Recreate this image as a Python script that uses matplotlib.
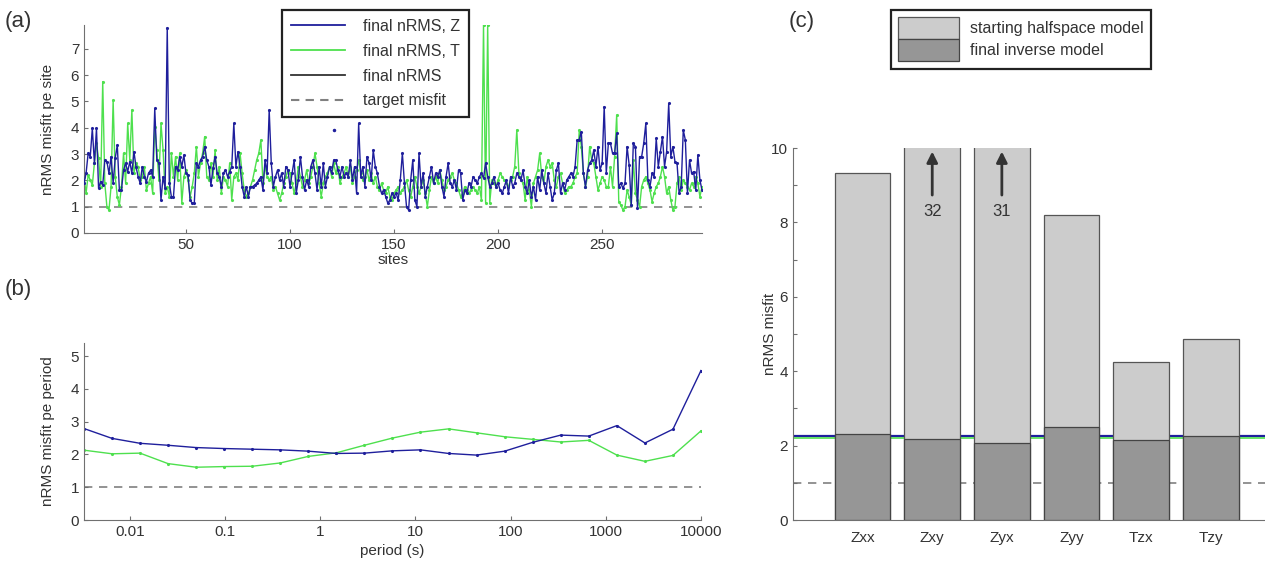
import matplotlib
matplotlib.use('Agg')
import numpy as np
import matplotlib.pyplot as plt
from matplotlib.lines import Line2D

plt.rcParams['font.family'] = ['Liberation Sans', 'DejaVu Sans']

# (a) misfit per site, sites 1..298
nrms_site_z = [
    1.89, 2.27, 3.03, 2.90, 3.97, 2.65, 3.97, 1.70, 1.95, 1.82,
    2.77, 2.71, 2.27, 2.90, 1.89, 2.84, 3.34, 1.63, 1.63, 2.39,
    2.65, 2.33, 2.71, 2.27, 3.09, 2.52, 2.14, 1.89, 2.52, 2.14,
    1.95, 2.27, 2.39, 2.14, 4.73, 2.77, 2.65, 1.25, 2.14, 1.70,
    7.80, 1.89, 1.38, 1.38, 2.52, 2.39, 2.90, 2.52, 2.96, 2.27,
    2.20, 1.25, 1.13, 1.13, 2.65, 2.52, 2.77, 2.90, 3.28, 2.77,
    2.52, 1.82, 2.46, 2.90, 2.27, 2.14, 1.76, 2.27, 2.39, 2.14,
    2.33, 2.52, 4.16, 2.52, 3.09, 2.52, 1.76, 1.38, 1.76, 1.38,
    1.76, 1.76, 1.82, 1.89, 2.01, 2.14, 1.63, 2.77, 2.27, 4.67,
    2.65, 1.76, 2.14, 2.39, 2.01, 2.27, 1.76, 2.52, 2.39, 1.76,
    2.27, 2.77, 1.51, 2.01, 2.90, 2.14, 1.63, 2.01, 1.76, 2.52,
    2.77, 2.27, 1.63, 2.52, 1.76, 2.65, 1.76, 2.14, 2.52, 2.27,
    2.77, 2.77, 2.39, 2.14, 2.52, 2.14, 2.27, 2.14, 2.77, 2.01,
    2.52, 1.51, 4.16, 2.14, 2.52, 1.76, 2.90, 2.65, 2.01, 3.15,
    2.52, 2.27, 1.76, 1.51, 1.63, 1.38, 1.13, 1.25, 1.51, 1.38,
    1.51, 1.25, 2.01, 3.03, 1.89, 1.00, 0.87, 2.01, 2.77, 1.25,
    1.00, 3.03, 1.76, 2.27, 1.38, 1.76, 2.14, 2.52, 1.89, 2.27,
    2.14, 2.39, 1.76, 1.38, 2.14, 2.65, 1.89, 1.76, 2.01, 1.63,
    2.39, 2.27, 1.25, 1.63, 1.51, 1.89, 1.76, 2.14, 2.01, 1.89,
    2.14, 2.27, 2.08, 2.65, 2.14, 1.76, 1.89, 2.14, 1.76, 1.89,
    1.63, 1.51, 1.76, 2.01, 1.51, 2.14, 1.76, 1.89, 2.27, 2.14,
    2.01, 2.39, 1.76, 1.51, 2.01, 1.38, 1.76, 1.25, 2.14, 1.63,
    2.39, 1.89, 1.51, 2.27, 1.76, 1.25, 1.51, 2.39, 2.65, 1.51,
    1.89, 1.63, 2.01, 2.14, 2.27, 2.14, 2.52, 3.53, 3.55, 3.85,
    2.27, 1.76, 2.39, 2.65, 2.77, 3.15, 2.52, 3.28, 2.39, 2.65,
    4.80, 2.27, 3.41, 3.41, 3.03, 3.03, 3.78, 1.76, 1.89, 1.70,
    1.89, 3.28, 2.58, 1.06, 3.41, 3.28, 0.94, 2.90, 2.90, 3.41,
    4.16, 2.01, 1.76, 2.27, 2.14, 3.59, 2.52, 3.09, 3.66, 2.52,
    3.09, 4.92, 2.90, 3.28, 2.71, 2.65, 1.51, 1.76, 3.91, 3.53,
    1.51, 2.77, 2.27, 2.33, 1.63, 2.96, 2.01, 1.63,
]
nrms_site_t = [
    2.14, 1.51, 2.20, 2.01, 1.82, 2.65, 3.41, 2.84, 1.76, 5.75,
    1.89, 1.00, 0.87, 1.76, 5.05, 2.14, 1.38, 1.06, 1.76, 3.03,
    1.89, 4.16, 2.77, 4.67, 2.27, 2.65, 2.52, 2.01, 2.14, 2.52,
    1.63, 1.89, 2.14, 1.51, 4.04, 3.15, 2.01, 4.16, 3.15, 1.51,
    1.76, 1.38, 3.03, 2.14, 2.90, 2.01, 3.03, 1.13, 2.14, 2.39,
    2.01, 1.38, 1.76, 2.27, 3.28, 2.14, 2.65, 3.03, 3.66, 2.14,
    2.01, 2.65, 2.14, 3.15, 2.01, 2.52, 1.51, 2.14, 2.01, 1.76,
    2.65, 1.25, 2.14, 2.27, 2.01, 3.03, 2.27, 1.63, 1.38, 1.51,
    1.76, 2.01, 2.39, 2.77, 3.03, 3.53, 1.89, 2.52, 2.14, 2.01,
    2.14, 1.63, 1.76, 1.51, 1.25, 1.51, 1.89, 2.14, 2.39, 2.27,
    1.89, 1.51, 1.89, 2.52, 2.14, 1.76, 2.01, 2.39, 1.89, 2.14,
    2.52, 3.03, 2.52, 1.89, 1.38, 1.89, 2.14, 2.27, 2.52, 2.14,
    2.65, 2.27, 2.52, 1.89, 2.14, 2.27, 2.52, 2.14, 2.52, 1.89,
    2.14, 2.39, 2.77, 2.27, 2.01, 2.14, 2.39, 2.01, 2.27, 1.89,
    2.14, 1.76, 1.63, 1.89, 1.63, 1.51, 1.76, 1.38, 1.25, 1.51,
    1.63, 1.76, 1.51, 1.63, 1.76, 2.01, 1.63, 1.38, 1.76, 2.14,
    1.76, 1.51, 1.76, 2.01, 1.51, 1.00, 1.63, 2.14, 1.89, 2.14,
    1.89, 2.39, 2.01, 1.63, 1.76, 2.01, 2.14, 2.27, 2.01, 1.89,
    1.63, 1.38, 1.51, 1.76, 1.63, 1.51, 1.63, 1.76, 1.63, 1.51,
    1.76, 1.25, 7.90, 1.15, 7.90, 1.15, 2.01, 1.89, 1.76, 2.01,
    2.27, 2.14, 2.01, 1.89, 1.76, 2.01, 2.14, 2.52, 3.91, 2.27,
    2.01, 1.89, 1.25, 2.14, 1.63, 1.00, 1.89, 2.14, 2.39, 3.03,
    2.14, 1.89, 2.52, 2.77, 2.52, 2.65, 2.01, 1.76, 2.14, 2.27,
    1.89, 1.51, 1.63, 1.76, 1.76, 1.89, 2.14, 2.27, 3.91, 3.28,
    2.27, 1.76, 2.14, 3.28, 2.77, 2.65, 2.14, 1.63, 1.89, 2.14,
    2.01, 1.76, 1.76, 2.52, 1.76, 2.90, 4.48, 1.19, 1.06, 0.87,
    1.00, 1.63, 1.38, 1.06, 2.77, 1.51, 1.25, 1.00, 1.76, 2.01,
    2.14, 1.89, 1.63, 1.19, 1.51, 1.76, 1.89, 2.14, 2.52, 2.14,
    1.51, 1.76, 1.25, 0.87, 1.00, 1.89, 2.14, 1.63, 2.01, 1.89,
    1.76, 1.63, 1.89, 1.76, 2.14, 1.89, 1.38, 1.76,
]
lone_site = [121]
lone_value = [3.92]
target_misfit = 1.0

# (b) misfit per period
periods = [0.0033, 0.0065, 0.0128, 0.0252, 0.0496, 0.0978, 0.193, 0.380,
           0.749, 1.48, 2.91, 5.74, 11.3, 22.3, 43.9, 86.5, 171, 336,
           663, 1307, 2576, 5077, 10000]
nrms_period_z = [2.79, 2.49, 2.34, 2.28, 2.21, 2.18, 2.16, 2.14, 2.10, 2.03,
                 2.04, 2.11, 2.14, 2.03, 1.98, 2.10, 2.37, 2.59, 2.56, 2.88,
                 2.35, 2.77, 4.56]
nrms_period_t = [2.13, 2.02, 2.04, 1.72, 1.61, 1.63, 1.64, 1.74, 1.94, 2.05,
                 2.28, 2.50, 2.68, 2.78, 2.66, 2.54, 2.46, 2.38, 2.43, 1.98,
                 1.79, 1.97, 2.72]
period_ticks = [0.01, 0.1, 1, 10, 100, 1000, 10000]
period_labels = ['0.01', '0.1', '1', '10', '100', '1000', '10000']

# (c) misfit per component
components = ['Zxx', 'Zxy', 'Zyx', 'Zyy', 'Tzx', 'Tzy']
start_misfit = [9.32, 32, 31, 8.20, 4.25, 4.87]
final_misfit = [2.32, 2.17, 2.08, 2.49, 2.14, 2.25]
final_z = 2.26
final_t = 2.21

BLUE = '#1f1f9c'
GREEN = '#4ee04e'
GRAY = '#808080'
AXC = '#707070'
TXT = '#333333'

W, H = 1265, 571
fig = plt.figure(figsize=(W / 100, H / 100), dpi=100)


def px_axes(x0, x1, ytop, ybot):
    return fig.add_axes([x0 / W, 1 - ybot / H, (x1 - x0) / W, (ybot - ytop) / H])


def style(ax):
    for s in ['top', 'right']:
        ax.spines[s].set_visible(False)
    for s in ['left', 'bottom']:
        ax.spines[s].set_color(AXC)
    ax.tick_params(direction='in', length=3, colors=AXC, labelcolor=TXT,
                   labelsize=11, which='both')


def boxed(leg):
    leg.get_frame().set_edgecolor('#222222')
    leg.get_frame().set_linewidth(1.6)
    for t in leg.get_texts():
        t.set_color(TXT)


# ---- (a)
ax = px_axes(84, 702, 25, 233)
style(ax)
sites = np.arange(1, len(nrms_site_z) + 1)
ax.axhline(target_misfit, color=GRAY, ls=(0, (5, 4)), lw=1.2, zorder=1)
ax.plot(sites, nrms_site_t, color=GREEN, lw=1, marker='.', ms=2.5, zorder=2)
ax.plot(sites, nrms_site_z, color=BLUE, lw=1, marker='.', ms=2.5, zorder=3)
ax.plot(lone_site, lone_value, ls='none', marker='.', ms=3, color=BLUE)
ax.set_xlim(1, 298)
ax.set_ylim(0, 7.9)
ax.set_yticks(range(0, 8))
ax.set_xticks([50, 100, 150, 200, 250])
ax.set_xlabel('sites', fontsize=11, color=TXT, labelpad=1)
ax.set_ylabel('nRMS misfit pe site', fontsize=11, color=TXT, labelpad=11)

handles = [Line2D([], [], color=BLUE, lw=1.3),
           Line2D([], [], color=GREEN, lw=1.3),
           Line2D([], [], color='#333333', lw=1.3),
           Line2D([], [], color=GRAY, lw=1.5, ls=(0, (4, 3)))]
leg = ax.legend(handles, ['final nRMS, Z', 'final nRMS, T', 'final nRMS', 'target misfit'],
                loc='upper left', bbox_to_anchor=(282 / W, 1 - 10 / H),
                bbox_transform=fig.transFigure, borderaxespad=0,
                fontsize=11.5, handlelength=3.4, labelspacing=0.62,
                borderpad=0.55, handletextpad=1.1, fancybox=False, framealpha=1)
boxed(leg)

# ---- (b)
ax = px_axes(84, 701, 343, 520)
style(ax)
ax.axhline(target_misfit, color=GRAY, ls=(0, (5, 4)), lw=1.2, zorder=1)
ax.plot(periods, nrms_period_t, color=GREEN, lw=1, marker='.', ms=2.5)
ax.plot(periods, nrms_period_z, color=BLUE, lw=1, marker='.', ms=2.5)
ax.set_xscale('log')
ax.set_xlim(periods[0], periods[-1])
ax.set_ylim(0, 5.4)
ax.set_yticks(range(0, 6))
ax.set_xticks(period_ticks)
ax.set_xticklabels(period_labels)
ax.minorticks_off()
ax.set_xlabel('period (s)', fontsize=11, color=TXT, labelpad=4)
ax.set_ylabel('nRMS misfit pe period', fontsize=11, color=TXT, labelpad=11)

# ---- (c)
ax = px_axes(793, 1265, 148, 520)
style(ax)
xpos = np.arange(1, len(components) + 1)
ax.axhline(target_misfit, color=GRAY, ls=(0, (5, 4)), lw=1.2, zorder=1)
ax.axhline(final_z, color=BLUE, lw=1.6, zorder=1)
ax.axhline(final_t, color=GREEN, lw=1.2, zorder=1)
ax.bar(xpos, start_misfit, width=0.8, color='#cccccc', edgecolor='#555555',
       lw=0.9, zorder=2, label='starting halfspace model')
ax.bar(xpos, final_misfit, width=0.8, color='#969696', edgecolor='#444444',
       lw=0.9, zorder=3, label='final inverse model')
for xi, v in zip(xpos, start_misfit):
    if v > 10:
        ax.annotate('', xy=(xi, 9.98), xytext=(xi, 8.66),
                    arrowprops=dict(arrowstyle='-|>', color='#333333', lw=2,
                                    mutation_scale=16), zorder=4)
        ax.text(xi, 8.3, f'{v:g}', ha='center', va='center', fontsize=12,
                color=TXT, zorder=4)
ax.set_xlim(0, 6.78)
ax.set_ylim(0, 10)
ax.set_yticks(range(0, 11))
ax.set_yticklabels([str(v) if v % 2 == 0 else '' for v in range(0, 11)])
ax.set_xticks(xpos)
ax.set_xticklabels(components)
ax.tick_params(axis='x', length=0, pad=8)
ax.set_ylabel('nRMS misfit', fontsize=11, color=TXT, labelpad=-4)

leg = ax.legend(loc='upper left', bbox_to_anchor=(891 / W, 1 - 10 / H),
                bbox_transform=fig.transFigure, borderaxespad=0,
                fontsize=11.5, handlelength=3.8, handleheight=1.75,
                labelspacing=0.0, borderpad=0.45, handletextpad=0.7,
                fancybox=False, framealpha=1)
boxed(leg)

fig.text(5 / W, 1 - 22 / H, '(a)', fontsize=16, color=TXT, va='center')
fig.text(5 / W, 1 - 290 / H, '(b)', fontsize=16, color=TXT, va='center')
fig.text(789 / W, 1 - 22 / H, '(c)', fontsize=16, color=TXT, va='center')

fig.savefig('out.png', dpi=100)
